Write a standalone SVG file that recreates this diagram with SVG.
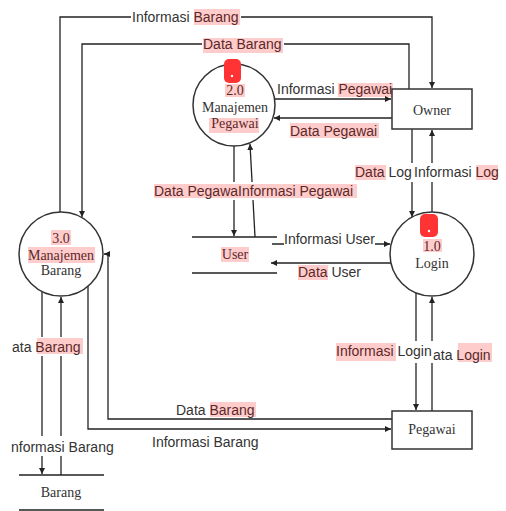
<svg xmlns="http://www.w3.org/2000/svg" width="506" height="511" viewBox="0 0 506 511">
<style>
.ln{fill:none;stroke:#222;stroke-width:1.3}
.arr{marker-end:url(#ah)}
.nd{fill:#fff;stroke:#333;stroke-width:1.5}
.st{fill:none;stroke:#222;stroke-width:1.5}
.nt{font-family:"Liberation Serif","Times New Roman",serif;font-size:14px;fill:#333;text-anchor:middle}
.lb{font-family:"Liberation Sans",Arial,sans-serif;font-size:14px;fill:#333}
.bg{fill:#fff}
.hl{fill:#ff0000;fill-opacity:0.2}
.blob{fill:#ff3333}
.dot{fill:#fff}
</style>
<defs>
<marker id="ah" markerUnits="userSpaceOnUse" markerWidth="7" markerHeight="6" refX="6" refY="3" orient="auto">
<path d="M0,0 L6,3 L0,6 z" fill="#222"/>
</marker>
</defs>
<rect width="506" height="511" fill="#fff"/>

<g id="connectors">
<path class="ln arr" d="M60,212 V17 H432 V88"/>
<path class="ln arr" d="M409,89 V44 H82 V217"/>
<path class="ln arr" d="M275,99 H391"/>
<path class="ln arr" d="M392,118 H274"/>
<path class="ln arr" d="M412,129 V217"/>
<path class="ln arr" d="M432,212 V130"/>
<path class="ln arr" d="M234,146 V236"/>
<path class="ln arr" d="M255,237 L250,144"/>
<path class="ln arr" d="M272,244 H390"/>
<path class="ln arr" d="M391,263 H271"/>
<path class="ln arr" d="M42,292 V474"/>
<path class="ln arr" d="M61,475 V297"/>
<path class="ln arr" d="M88,286 V429 H391"/>
<path class="ln arr" d="M392,419 H108 V254 H104"/>
<path class="ln arr" d="M416,293 V410"/>
<path class="ln arr" d="M432,411 V297"/>

<rect class="bg" x="131" y="8" width="110" height="18"/>
<text class="lb" x="132" y="22">Informasi Barang</text>
<rect class="hl" x="194" y="9" width="46" height="16"/>

<rect class="bg" x="202" y="36" width="82" height="17"/>
<text class="lb" x="203" y="49">Data Barang</text>
<rect class="hl" x="203" y="38" width="80" height="15"/>

<text class="lb" x="277" y="94">Informasi Pegawai</text>
<rect class="hl" x="338" y="83" width="55" height="14"/>

<text class="lb" x="290" y="136">Data Pegawai</text>
<rect class="hl" x="290" y="123" width="89" height="15"/>

<rect class="bg" x="354" y="163" width="146" height="19"/>
<text class="lb" x="355" y="177">Data Log</text>
<text class="lb" x="414" y="177">Informasi Log</text>
<rect class="hl" x="355" y="165" width="31" height="15"/>
<rect class="hl" x="476" y="165" width="22" height="15"/>

<rect class="bg" x="153" y="182" width="205" height="18"/>
<text class="lb" x="154" y="196">Data Pegawa</text>
<text class="lb" x="238" y="196">Informasi Pegawai</text>
<rect class="hl" x="154" y="184" width="203" height="14"/>

<rect class="bg" x="284" y="230" width="91" height="18"/>
<text class="lb" x="284" y="244">Informasi User</text>

<text class="lb" x="298" y="277">Data User</text>
<rect class="hl" x="298" y="265" width="30" height="15"/>

<rect class="bg" x="10" y="337" width="75" height="19"/>
<text class="lb" x="12" y="352">ata Barang</text>
<rect class="hl" x="37" y="338" width="46" height="16"/>

<rect class="bg" x="335" y="341" width="98" height="22"/>
<text class="lb" x="336" y="356">Informasi Login</text>
<rect class="hl" x="336" y="343" width="60" height="18"/>

<rect class="bg" x="433" y="341" width="60" height="22"/>
<text class="lb" x="433" y="360">ata Login</text>
<rect class="hl" x="458" y="343" width="34" height="19"/>

<text class="lb" x="176" y="415">Data Barang</text>
<rect class="hl" x="210" y="402" width="46" height="15"/>

<text class="lb" x="152" y="447">Informasi Barang</text>

<rect class="bg" x="10" y="436" width="105" height="20"/>
<text class="lb" x="11" y="452">nformasi Barang</text>
</g>

<g id="node-owner">
<rect class="nd" x="392" y="89" width="80" height="40"/>
<text class="nt" x="432" y="115">Owner</text>
</g>

<g id="node-pegawai">
<rect class="nd" x="392" y="411" width="80" height="38"/>
<text class="nt" x="432" y="434">Pegawai</text>
</g>

<g id="node-2-0">
<circle class="nd" cx="234" cy="105" r="41"/>
<text class="nt" x="235" y="95">2.0</text>
<text class="nt" x="235" y="112">Manajemen</text>
<text class="nt" x="235" y="128">Pegawai</text>
<rect class="hl" x="225" y="84" width="20" height="13"/>
<rect class="hl" x="209" y="118" width="50" height="15"/>
<rect class="blob" x="224" y="59" width="17" height="24" rx="5"/>
<circle class="dot" cx="232" cy="76" r="1.2"/>
</g>

<g id="node-1-0">
<circle class="nd" cx="432" cy="254" r="42"/>
<text class="nt" x="432" y="251">1.0</text>
<text class="nt" x="432" y="268">Login</text>
<rect class="hl" x="423" y="239" width="19" height="13"/>
<rect class="blob" x="420" y="214" width="18" height="23" rx="5"/>
<circle class="dot" cx="429" cy="231" r="1.2"/>
</g>

<g id="node-3-0">
<circle class="nd" cx="61" cy="254" r="42"/>
<text class="nt" x="61" y="243">3.0</text>
<text class="nt" x="61" y="260">Manajemen</text>
<text class="nt" x="61" y="275">Barang</text>
<rect class="hl" x="51" y="230" width="20" height="15"/>
<rect class="hl" x="28" y="247" width="67" height="16"/>
</g>

<g id="store-user">
<path class="st" d="M192,237 H277 M192,273 H277"/>
<text class="nt" x="235" y="259">User</text>
<rect class="hl" x="221" y="247" width="28" height="15"/>
</g>

<g id="store-barang">
<path class="st" d="M19,475 H104 M19,510 H104"/>
<text class="nt" x="61" y="497">Barang</text>
</g>
</svg>
